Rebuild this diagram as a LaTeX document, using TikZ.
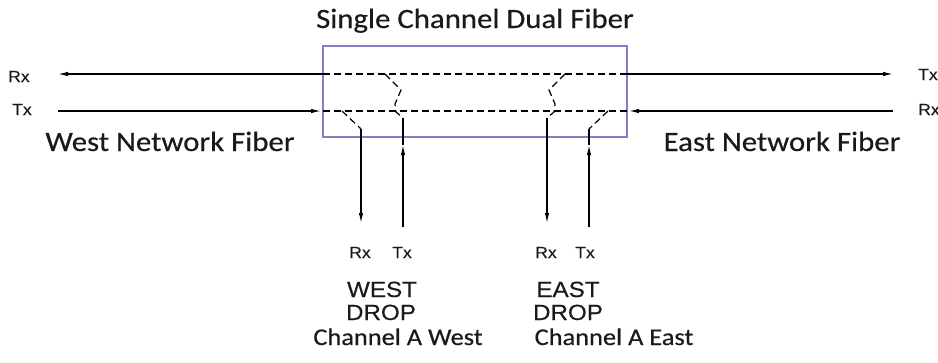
\documentclass[tikz,border=0pt]{standalone}
\usepackage{fontspec}
\newfontfamily\calfont[FakeStretch=1.1,FakeBold=0.4]{Carlito}
\newfontfamily\arifont[FakeStretch=1.1,FakeBold=0.3]{Liberation Sans}
\usetikzlibrary{arrows.meta}
\definecolor{txt}{HTML}{1A1A1A}
\definecolor{boxc}{HTML}{8080C8}
\begin{document}
\begin{tikzpicture}[x=1pt,y=-1pt,
  fib/.style={draw=black, line width=1.2pt},
  dsh/.style={fib, dash pattern=on 7pt off 4pt},
  tip/.style={-{Latex[length=10pt,width=4.5pt]}},
  boxst/.style={draw=boxc, line width=1.3pt},
  big/.style={font=\calfont\fontsize{28}{30}\selectfont, text=txt, inner sep=0pt, anchor=base},
  chan/.style={font=\calfont\fontsize{24}{26}\selectfont, text=txt, inner sep=0pt, anchor=base},
  drop/.style={font=\arifont\fontsize{22}{24}\selectfont, text=txt, inner sep=0pt, anchor=base},
  port/.style={font=\arifont\fontsize{16}{18}\selectfont, text=txt, inner sep=0pt, anchor=base}]
\useasboundingbox (0,0) rectangle (938,362);
% box
\draw[boxst] (323,46) rectangle (627,137);
% coordinates
\coordinate (tL) at (58,74);   \coordinate (tBL) at (323,74);
\coordinate (tBR) at (627,74); \coordinate (tR) at (893,74);
\coordinate (bL) at (58,111);  \coordinate (bBL) at (321,111);
\coordinate (bBLd) at (323,111); \coordinate (bBRd) at (627,111);
\coordinate (bBR) at (629,111); \coordinate (bR) at (893,111);
% top fiber
\draw[fib,tip] (tBL) -- (tL);
\draw[dsh] (tBL) -- (tBR);
\draw[fib,tip] (tBR) -- (tR);
% bottom fiber
\draw[fib,tip] (bL) -- (bBL);
\draw[dsh] (bBLd) -- (bBRd);
\draw[fib,tip] (bR) -- (bBR);
% west rx drop
\coordinate (wrx0) at (342,111); \coordinate (wrx1) at (361,129); \coordinate (wrx2) at (361,223);
\draw[dsh] (wrx0) -- (wrx1);
\draw[fib,tip] (wrx1) -- (wrx2);
% west tx add
\coordinate (wtx0) at (385,74); \coordinate (wtx1) at (401,90); \coordinate (wtx2) at (395,104);
\coordinate (wtx3) at (396,112); \coordinate (wtx4) at (403,118);
\coordinate (wtx5) at (403,145); \coordinate (wtx6) at (403,227);
\draw[dsh] (wtx0) -- (wtx1) -- (wtx2) -- (wtx3) -- (wtx4);
\draw[fib] (wtx4) -- (wtx5);
\draw[fib,tip] (wtx6) -- (wtx5);
% east rx drop
\coordinate (erx0) at (565,74); \coordinate (erx1) at (549,90); \coordinate (erx2) at (555,104);
\coordinate (erx3) at (554,112); \coordinate (erx4) at (547,118); \coordinate (erx5) at (547,223);
\draw[dsh] (erx0) -- (erx1) -- (erx2) -- (erx3) -- (erx4);
\draw[fib,tip] (erx4) -- (erx5);
% east tx add
\coordinate (etx0) at (608,111); \coordinate (etx1) at (589,129);
\coordinate (etx2) at (589,145); \coordinate (etx3) at (589,227);
\draw[dsh] (etx0) -- (etx1);
\draw[fib] (etx1) -- (etx2);
\draw[fib,tip] (etx3) -- (etx2);
% texts
\node[big] (title) at (475,28) {Single Channel Dual Fiber};
\node[big] (west) at (170,151) {West Network Fiber};
\node[big] (east) at (782,151) {East Network Fiber};
\node[port,anchor=base west] (lrx) at (8,82) {Rx};
\node[port,anchor=base west] (ltx) at (12,115) {Tx};
\node[port,anchor=base west] (rtx) at (918,80) {Tx};
\node[port,anchor=base west] (rrx) at (918,115) {Rx};
\node[port] (wrxl) at (360,258) {Rx};
\node[port] (wtxl) at (402,258) {Tx};
\node[port] (erxl) at (546,258) {Rx};
\node[port] (etxl) at (585,258) {Tx};
\node[drop] (wd1) at (382,297) {WEST};
\node[drop] (wd2) at (381,320) {DROP};
\node[chan] (wch) at (398,345) {Channel A West};
\node[drop] (ed1) at (568,297) {EAST};
\node[drop] (ed2) at (568,320) {DROP};
\node[chan] (ech) at (614,345) {Channel A East};
\end{tikzpicture}
\end{document}
